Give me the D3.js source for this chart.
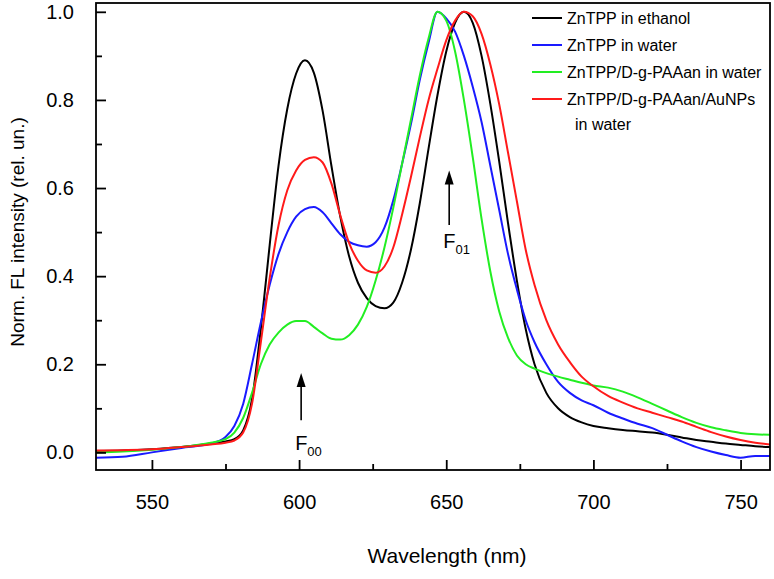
<!DOCTYPE html>
<html>
<head>
<meta charset="utf-8">
<script src="https://cdn.jsdelivr.net/npm/d3@7"></script>
<style>
  html, body { margin: 0; padding: 0; background: #fff; }
  svg { display: block; font-family: "Liberation Sans", Arial, sans-serif; }
</style>
</head>
<body>
<svg id="chart" width="774" height="579"></svg>
<script>
// ---- data ----
const wavelength = [531, 540, 550, 560, 570, 575, 578, 581, 584, 587, 590, 593, 596, 599, 602, 605, 608, 611, 614, 617, 620, 623, 626, 629, 632, 635, 638, 641, 644, 647, 650, 653, 656, 659, 662, 665, 668, 671, 674, 677, 680, 684, 688, 692, 696, 700, 705, 710, 715, 720, 725, 730, 735, 740, 745, 750, 755, 760];

const ethanol = [0.003, 0.004, 0.007, 0.012, 0.020, 0.025, 0.030, 0.050, 0.120, 0.280, 0.470, 0.650, 0.780, 0.860, 0.890, 0.862, 0.775, 0.650, 0.535, 0.445, 0.385, 0.350, 0.332, 0.327, 0.340, 0.385, 0.460, 0.565, 0.690, 0.810, 0.910, 0.975, 1.000, 0.975, 0.900, 0.790, 0.660, 0.520, 0.390, 0.280, 0.200, 0.135, 0.100, 0.080, 0.068, 0.060, 0.055, 0.051, 0.048, 0.045, 0.040, 0.034, 0.028, 0.024, 0.020, 0.017, 0.014, 0.012];

const water = [-0.012, -0.010, 0.000, 0.010, 0.020, 0.035, 0.060, 0.110, 0.200, 0.295, 0.380, 0.450, 0.500, 0.535, 0.552, 0.557, 0.545, 0.520, 0.495, 0.478, 0.470, 0.467, 0.477, 0.510, 0.572, 0.655, 0.745, 0.845, 0.930, 1.000, 0.985, 0.955, 0.900, 0.830, 0.750, 0.650, 0.550, 0.450, 0.370, 0.300, 0.250, 0.200, 0.160, 0.135, 0.118, 0.107, 0.090, 0.077, 0.065, 0.055, 0.040, 0.025, 0.012, 0.002, -0.006, -0.012, -0.008, -0.008];

const paaan = [0.000, 0.002, 0.006, 0.012, 0.022, 0.030, 0.045, 0.078, 0.135, 0.200, 0.245, 0.272, 0.290, 0.298, 0.298, 0.285, 0.270, 0.258, 0.256, 0.266, 0.290, 0.330, 0.390, 0.465, 0.555, 0.655, 0.755, 0.855, 0.940, 1.000, 0.980, 0.910, 0.800, 0.670, 0.530, 0.410, 0.320, 0.260, 0.220, 0.200, 0.190, 0.180, 0.172, 0.165, 0.158, 0.152, 0.147, 0.138, 0.125, 0.110, 0.095, 0.080, 0.067, 0.057, 0.050, 0.044, 0.041, 0.040];

const aunps = [0.004, 0.005, 0.007, 0.012, 0.018, 0.022, 0.027, 0.045, 0.110, 0.250, 0.395, 0.515, 0.595, 0.640, 0.664, 0.670, 0.658, 0.610, 0.538, 0.475, 0.435, 0.413, 0.408, 0.422, 0.465, 0.540, 0.625, 0.715, 0.800, 0.870, 0.935, 0.980, 1.000, 0.990, 0.950, 0.880, 0.790, 0.680, 0.570, 0.460, 0.380, 0.300, 0.245, 0.205, 0.172, 0.150, 0.128, 0.113, 0.100, 0.090, 0.080, 0.070, 0.058, 0.046, 0.036, 0.028, 0.022, 0.018];

const seriesNames = ["ZnTPP in ethanol", "ZnTPP in water", "ZnTPP/D-g-PAAan in water", "ZnTPP/D-g-PAAan/AuNPs"];
const seriesNameExtra = "in water";
const seriesColors = ["#000000", "#1a1aff", "#22ee22", "#ff1a1a"];
const seriesValues = [ethanol, water, paaan, aunps];

const xTicks = [550, 600, 650, 700, 750];
const xMinorTicks = [575, 625, 675, 725];
const yTicks = [0.0, 0.2, 0.4, 0.6, 0.8, 1.0];
const yMinorTicks = [0.1, 0.3, 0.5, 0.7, 0.9];
const xTitle = "Wavelength (nm)";
const yTitle = "Norm. FL intensity (rel. un.)";

// annotations (data coordinates)
const annF00 = { x: 600.7, yTip: 0.18, yBase: 0.073, labelY: 0.005, sub: "00" };
const annF01 = { x: 651, yTip: 0.64, yBase: 0.516, labelY: 0.465, sub: "01" };

// ---- layout ----
const svg = d3.select("#chart");
const L = 96, R = 770, T = 3, B = 470;

const x = d3.scaleLinear().domain([531, 760]).range([L, R]);
const y = d3.scaleLinear().domain([-0.04, 1.02]).range([B, T]);

const defs = svg.append("defs");
defs.append("clipPath").attr("id", "clip")
  .append("rect").attr("x", L).attr("y", T).attr("width", R - L).attr("height", B - T);

// curves
const line = d3.line().x(d => x(d[0])).y(d => y(d[1])).curve(d3.curveMonotoneX);
seriesValues.forEach((vals, i) => {
  const pts = wavelength.map((w, j) => [w, vals[j]]);
  svg.append("path")
    .attr("d", line(pts))
    .attr("fill", "none")
    .attr("stroke", seriesColors[i])
    .attr("stroke-width", 2)
    .attr("clip-path", "url(#clip)");
});

// axes
const fmt = d3.format(".1f");
svg.append("g").attr("transform", `translate(0,${B})`)
  .call(d3.axisBottom(x).tickValues(xTicks).tickSize(-10).tickPadding(25).tickFormat(d3.format("d")));
svg.append("g").attr("transform", `translate(0,${B})`)
  .call(d3.axisBottom(x).tickValues(xMinorTicks).tickSize(-6).tickFormat(""));
svg.append("g").attr("transform", `translate(${L},0)`)
  .call(d3.axisLeft(y).tickValues(yTicks).tickSize(-10).tickPadding(22).tickFormat(fmt));
svg.append("g").attr("transform", `translate(${L},0)`)
  .call(d3.axisLeft(y).tickValues(yMinorTicks).tickSize(-6).tickFormat(""));

svg.selectAll(".domain").remove();
svg.selectAll(".tick line").attr("stroke", "#000").attr("stroke-width", 1.8);
svg.selectAll(".tick text").attr("fill", "#000").style("font-size", "20px")
  .style("font-family", "'Liberation Sans', Arial, sans-serif");

// frame
svg.append("rect").attr("x", L).attr("y", T).attr("width", R - L).attr("height", B - T)
  .attr("fill", "none").attr("stroke", "#000").attr("stroke-width", 1.8);

// titles
svg.append("text").attr("x", 447).attr("y", 563)
  .attr("text-anchor", "middle").style("font-size", "21px").text(xTitle);
svg.append("text")
  .attr("transform", `translate(24,232) rotate(-90)`)
  .attr("text-anchor", "middle").style("font-size", "19px").text(yTitle);

// legend
const legX0 = 532, legX1 = 562, legTx = 567;
const legY = [18, 45, 72, 99];
seriesNames.forEach((name, i) => {
  svg.append("line").attr("x1", legX0).attr("x2", legX1).attr("y1", legY[i]).attr("y2", legY[i])
    .attr("stroke", seriesColors[i]).attr("stroke-width", 2);
  svg.append("text").attr("x", legTx).attr("y", legY[i] + 6).style("font-size", "16px").text(name);
});
svg.append("text").attr("x", legTx + 8).attr("y", legY[3] + 31).style("font-size", "16px").text(seriesNameExtra);

// annotations
[annF00, annF01].forEach(a => {
  svg.append("line")
    .attr("x1", x(a.x)).attr("x2", x(a.x))
    .attr("y1", y(a.yBase)).attr("y2", y(a.yTip) + 8)
    .attr("stroke", "#000").attr("stroke-width", 1.6);
  svg.append("path")
    .attr("d", `M${x(a.x)},${y(a.yTip)} l-4.5,14 l9,0 Z`)
    .attr("fill", "#000");
  const t = svg.append("text").attr("x", x(a.x) - 6).attr("y", y(a.labelY))
    .style("font-size", "20px");
  t.append("tspan").text("F");
  t.append("tspan").attr("dy", 6).style("font-size", "13px").text(a.sub);
});
</script>
</body>
</html>
